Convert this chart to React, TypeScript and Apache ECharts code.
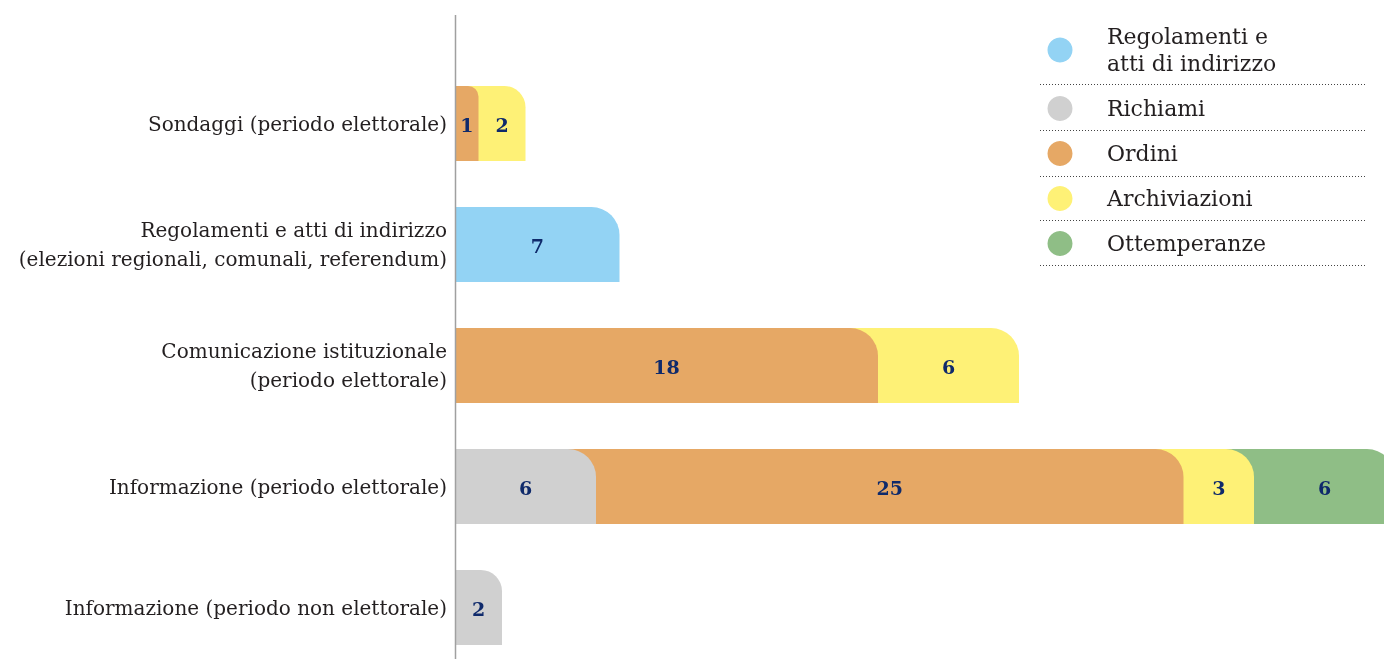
import React, { useEffect, useRef } from "react";
import * as echarts from "echarts";

const categories = [
  "Sondaggi (periodo elettorale)",
  "Regolamenti e atti di indirizzo\n(elezioni regionali, comunali, referendum)",
  "Comunicazione istituzionale\n(periodo elettorale)",
  "Informazione (periodo elettorale)",
  "Informazione (periodo non elettorale)",
];

const seriesNames = [
  "Regolamenti e\natti di indirizzo",
  "Richiami",
  "Ordini",
  "Archiviazioni",
  "Ottemperanze",
];

const regolamenti = [0, 7, 0, 0, 0];
const richiami = [0, 0, 0, 6, 2];
const ordini = [1, 0, 18, 25, 0];
const archiviazioni = [2, 0, 6, 3, 0];
const ottemperanze = [0, 0, 0, 6, 0];

const seriesValues = [regolamenti, richiami, ordini, archiviazioni, ottemperanze];
const colors = ["#93d3f4", "#d0d0d0", "#e6a865", "#fef176", "#8fbe86"];

const SERIF = "'DejaVu Serif', 'Liberation Serif', serif";

export default function App() {
  const ref = useRef<HTMLDivElement>(null);

  useEffect(() => {
    if (!ref.current) return;
    const chart = echarts.init(ref.current, undefined, { renderer: "svg" });

    const starts = categories.map(() => 0);
    const series = seriesValues.map((vals, si) => {
      const data: number[][] = [];
      vals.forEach((v, ci) => {
        if (v > 0) {
          data.push([starts[ci], ci, starts[ci] + v, v]);
          starts[ci] += v;
        }
      });
      return {
        type: "custom",
        name: seriesNames[si],
        z: 10 - si,
        itemStyle: { color: colors[si] },
        encode: { x: [0, 2], y: 1 },
        data,
        renderItem: (params: any, api: any) => {
          const s = api.value(0);
          const c = api.value(1);
          const e = api.value(2);
          const v = api.value(3);
          const origin = api.coord([0, c]);
          const p0 = api.coord([s, c]);
          const p1 = api.coord([e, c]);
          const h = 75;
          const w = p1[0] - p0[0];
          const r = Math.min(28, w * 0.45);
          const ext = Math.min(30, p0[0] - origin[0]);
          return {
            type: "group",
            children: [
              {
                type: "rect",
                shape: { x: p0[0] - ext, y: p0[1] - h / 2, width: w + ext, height: h, r: [0, r, 0, 0] },
                style: { fill: api.visual("color") },
              },
              {
                type: "text",
                z2: 100,
                style: {
                  text: String(v),
                  x: p0[0] + w / 2,
                  y: p0[1] + 1,
                  align: "center",
                  verticalAlign: "middle",
                  fill: "#0f2a6b",
                  font: `bold 19px ${SERIF}`,
                },
              },
            ],
          };
        },
      };
    });

    const lineYs = [84, 130, 176, 220, 265];

    chart.setOption({
      animation: false,
      grid: { left: 455, top: 63, width: 940, height: 605, containLabel: false },
      xAxis: { type: "value", min: 0, max: 40, show: false },
      yAxis: {
        type: "category",
        inverse: true,
        data: categories,
        axisLine: { show: false },
        axisTick: { show: false },
        axisLabel: {
          fontFamily: SERIF,
          fontSize: 20,
          lineHeight: 29,
          color: "#231f20",
          margin: 8,
        },
      },
      legend: {
        orient: "vertical",
        left: 1042.5,
        top: 18,
        icon: "circle",
        itemWidth: 84,
        itemHeight: 25,
        itemGap: 18,
        selectedMode: false,
        data: seriesNames,
        textStyle: { fontFamily: SERIF, fontSize: 22, lineHeight: 27, color: "#231f20" },
      },
      graphic: [
        {
          type: "line",
          shape: { x1: 455.5, y1: 15, x2: 455.5, y2: 659 },
          style: { stroke: "#a0a0a0", lineWidth: 1.5 },
          z: 50,
        },
        ...lineYs.map((y) => ({
          type: "line",
          shape: { x1: 1040, y1: y + 0.5, x2: 1367, y2: y + 0.5 },
          style: { stroke: "#444", lineWidth: 1, lineDash: [1, 2] },
        })),
      ],
      series,
    });

    return () => chart.dispose();
  }, []);

  return (
    <div
      ref={ref}
      style={{ position: "fixed", left: 0, top: 0, width: 1400, height: 680 }}
    />
  );
}
